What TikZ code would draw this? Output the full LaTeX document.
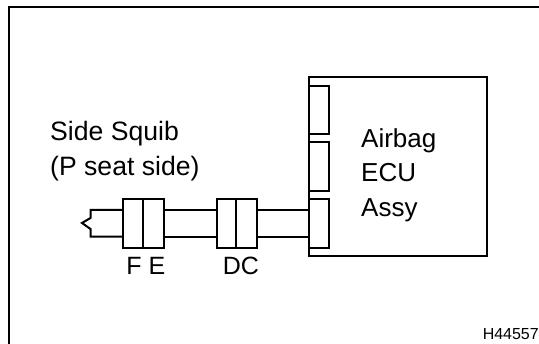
\documentclass[tikz,border=0pt]{standalone}
\usepackage{fontspec}
\setmainfont{Liberation Sans}
\tikzset{
  ln/.style={draw=black,line width=2pt,line join=miter},
  frm/.style={draw=black,line width=2.4pt},
  bx/.style={ln,rectangle,inner sep=0pt,outer sep=0pt,minimum width=#1,minimum height=48.5pt},
  big/.style={inner sep=0pt,anchor=base west,font=\fontsize{26}{30}\selectfont},
  side/.style={inner sep=0pt,anchor=base west,font=\fontsize{26.6}{30}\selectfont},
  lbl/.style={inner sep=0pt,anchor=base,font=\fontsize{25}{30}\selectfont}
}
\begin{document}
\begin{tikzpicture}[x=1pt,y=-1pt]
\useasboundingbox (0,0) rectangle (539,344);
\draw[frm] (9,344) -- (9,7) -- (539,7);
\node[bx=178.3pt,minimum height=178.2pt] (ecu) at (398.15,166.6) {};
\coordinate (tl) at (90.5,210);
\coordinate (bl) at (90.5,236.7);
\coordinate (tip) at (82,223);
\coordinate (c1) at (90.5,218);
\coordinate (c2) at (90.5,229);
\node[bx=20pt] (c3) at (319.3,223.3) {};
\node[bx=20pt] (c2a) at (319.3,166.7) {};
\node[bx=20pt] (c1a) at (319.3,110) {};
\node[bx=20pt] (f) at (133.3,223.3) {};
\node[bx=20.7pt] (e) at (153.65,223.3) {};
\node[bx=19.3pt] (d) at (226.35,223.3) {};
\node[bx=20.7pt] (cc) at (246.35,223.3) {};
\draw[ln] (f.west |- tl) -- (tl) -- (c1) -- (tip) -- (c2) -- (bl) -- (f.west |- bl);
\draw[ln] (e.east |- tl) -- (d.west |- tl);
\draw[ln] (e.east |- bl) -- (d.west |- bl);
\draw[ln] (cc.east |- tl) -- (c3.west |- tl);
\draw[ln] (cc.east |- bl) -- (c3.west |- bl);
\node[side] (t1) at (50,141) {Side Squib};
\node[side] (t2) at (50,176) {(P seat side)};
\node[big] (a1) at (361,147.5) {Airbag};
\node[big] (a2) at (361,182) {ECU};
\node[big] (a3) at (361,217) {Assy};
\node[lbl] (lf) at (134,275) {F};
\node[lbl] (le) at (157,275) {E};
\node[lbl] (ld) at (232,275) {D};
\node[lbl] (lc) at (250,275) {C};
\node[inner sep=0pt,anchor=base east,font=\fontsize{16}{18}\selectfont] (h) at (539,340) {H44557};
\end{tikzpicture}
\end{document}
